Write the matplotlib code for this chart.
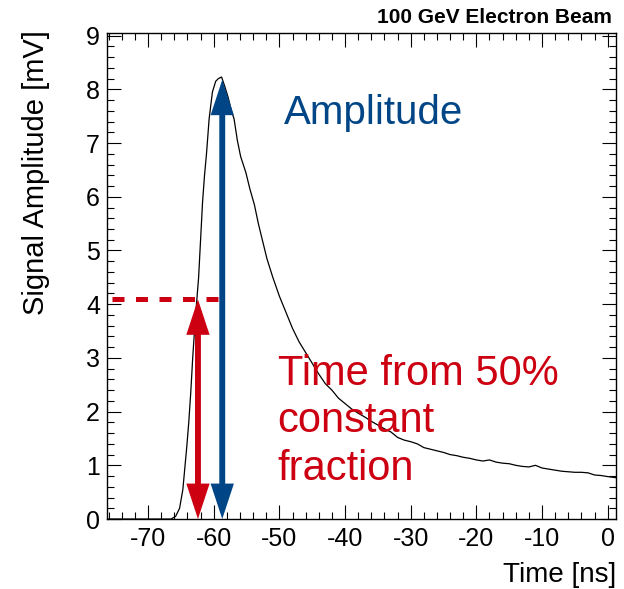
import matplotlib
matplotlib.use("Agg")
import matplotlib.pyplot as plt
from matplotlib.patches import Polygon
from matplotlib.ticker import MultipleLocator

plt.rcParams['font.family'] = ['Liberation Sans', 'DejaVu Sans']
plt.rcParams['axes.unicode_minus'] = False

# Digitised waveform of the calorimeter signal
time_ns = [-76.25, -70.0, -67.5, -66.5, -65.8, -65.2, -64.7, -64.4, -64.1, -63.8,
           -63.5, -63.2, -62.9, -62.6, -62.3, -62.0, -61.7, -61.4, -61.1, -60.7,
           -60.2, -59.7, -59.3, -58.8, -58.3, -57.8, -57.3, -56.9, -56.4, -55.9,
           -55.1, -54.5, -53.8, -53.2, -52.6, -51.9, -51.0, -50.0, -49.0, -48.0,
           -47.0, -46.0, -45.0, -44.0, -43.0, -42.0, -41.0, -40.0, -39.0, -38.0,
           -37.0, -36.0, -35.0, -34.0, -33.0, -32.0, -31.0, -30.0, -29.0, -28.0,
           -27.0, -26.0, -25.0, -24.0, -23.0, -22.0, -21.0, -20.0, -19.0, -18.0,
           -17.0, -16.0, -15.0, -14.0, -13.0, -12.0, -11.0, -10.0, -9.0, -8.0,
           -7.0, -6.0, -5.0, -4.0, -3.0, -2.0, -1.0, 0.0, 1.25]
amp_mv = [0.0, 0.0, 0.0, 0.0, 0.05, 0.2, 0.55, 0.95, 1.35, 1.8,
          2.35, 3.0, 3.55, 4.04, 4.5, 5.2, 5.9, 6.4, 6.8, 7.45,
          7.95, 8.15, 8.2, 8.23, 8.05, 7.85, 7.6, 7.45, 7.05, 6.75,
          6.45, 6.15, 5.85, 5.5, 5.2, 4.85, 4.5, 4.15, 3.85, 3.55,
          3.3, 3.1, 2.9, 2.7, 2.52, 2.4, 2.25, 2.15, 2.05, 1.97,
          1.9, 1.82, 1.75, 1.68, 1.62, 1.52, 1.47, 1.44, 1.4, 1.33,
          1.3, 1.27, 1.24, 1.2, 1.18, 1.15, 1.13, 1.1, 1.08, 1.1,
          1.06, 1.04, 1.03, 1.0, 0.98, 0.97, 1.0, 0.95, 0.93, 0.91,
          0.89, 0.88, 0.87, 0.87, 0.86, 0.82, 0.81, 0.79, 0.77]

peak_time = -58.7
peak_amp = 8.18
cfd_fraction = 0.5
cfd_time = -62.4
cfd_amp = cfd_fraction * peak_amp

x_ticks = [-70, -60, -50, -40, -30, -20, -10, 0]
x_ticklabels = ['-70', '-60', '-50', '-40', '-30', '-20', '-10', '0']
y_ticks = [0, 1, 2, 3, 4, 5, 6, 7, 8, 9]

BLUE = '#004687'
RED = '#cc0011'

fig = plt.figure(figsize=(6.24, 5.89), dpi=100)
ax = fig.add_axes([0.1715, 0.1188, 0.8155, 0.8252])

ax.plot(time_ns, amp_mv, color='black', lw=0.9, zorder=2)

ax.set_xlim(-76.25, 1.25)
ax.set_ylim(0, 9.05)


def double_arrow(ax, x, y0, y1, color, shaft=0.9, head_w=3.55, head_l=0.66):
    hs, hw = shaft / 2, head_w / 2
    verts = [(x, y0), (x - hw, y0 + head_l), (x - hs, y0 + head_l),
             (x - hs, y1 - head_l), (x - hw, y1 - head_l), (x, y1),
             (x + hw, y1 - head_l), (x + hs, y1 - head_l),
             (x + hs, y0 + head_l), (x + hw, y0 + head_l)]
    ax.add_patch(Polygon(verts, closed=True, facecolor=color,
                         edgecolor='none', zorder=4))


# constant-fraction level
ax.plot([-75.45, peak_time - 0.45], [cfd_amp, cfd_amp], color=RED, lw=3.6,
        linestyle=(0, (2.4, 2.3)), solid_capstyle='butt',
        dash_capstyle='butt', zorder=3)

double_arrow(ax, cfd_time, 0, cfd_amp, RED)
double_arrow(ax, peak_time, 0, peak_amp, BLUE)

ax.text(-49.25, 7.36, 'Amplitude', color=BLUE, fontsize=29, va='baseline',
        ha='left', zorder=5)
ax.text(-50.27, 0.725, 'Time from 50%\nconstant\nfraction', color=RED,
        fontsize=30, va='baseline', ha='left', linespacing=1.25, zorder=5)

ax.set_xticks(x_ticks)
ax.set_xticklabels(x_ticklabels)
ax.set_yticks(y_ticks)
ax.xaxis.set_minor_locator(MultipleLocator(2))
ax.yaxis.set_minor_locator(MultipleLocator(0.2))
ax.tick_params(which='both', direction='in', top=True, right=True,
               width=0.8, labelsize=18)
ax.tick_params(which='major', length=10)
ax.tick_params(which='minor', length=5)
ax.tick_params(axis='x', which='major', pad=6)
ax.tick_params(axis='y', which='major', pad=5)
for s in ax.spines.values():
    s.set_linewidth(1.0)

ax.set_xlabel('Time [ns]', fontsize=20, loc='right', labelpad=8)
ax.set_ylabel('Signal Amplitude [mV]', fontsize=21, loc='top')
ax.yaxis.set_label_coords(-0.112, 1.006)

fig.text(612 / 624, 1 - 23.3 / 589, '100 GeV Electron Beam', ha='right',
         va='baseline', fontsize=15, fontweight='bold')

fig.savefig('out.png', dpi=100)
